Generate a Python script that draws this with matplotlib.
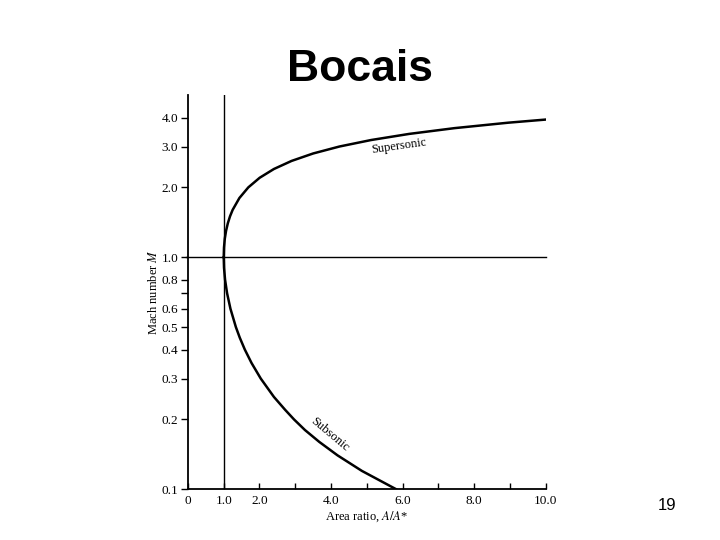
import matplotlib
matplotlib.use('Agg')
from matplotlib import pyplot as plt

# values (area ratio A/A*, Mach number M)
sup_area = [1.0, 1.008, 1.03, 1.066, 1.115, 1.176, 1.25, 1.439, 1.688, 2.005,
            2.403, 2.896, 3.5, 4.235, 5.121, 6.184, 7.45, 8.951, 10.0]
sup_mach = [1.0, 1.1, 1.2, 1.3, 1.4, 1.5, 1.6, 1.8, 2.0, 2.2,
            2.4, 2.6, 2.8, 3.0, 3.2, 3.4, 3.6, 3.8, 3.92]

sub_area = [1.0, 1.009, 1.038, 1.094, 1.188, 1.34, 1.449, 1.59, 1.778, 2.035,
            2.403, 2.716, 2.964, 3.27, 3.67, 4.18, 4.86, 5.82]
sub_mach = [1.0, 0.9, 0.8, 0.7, 0.6, 0.5, 0.45, 0.4, 0.35, 0.3,
            0.25, 0.22, 0.2, 0.18, 0.16, 0.14, 0.12, 0.1]

y_ticks = [0.1, 0.2, 0.3, 0.4, 0.5, 0.6, 0.7, 0.8, 1.0, 2.0, 3.0, 4.0]
y_labels = ['0.1', '0.2', '0.3', '0.4', '0.5', '0.6', '', '0.8', '1.0', '2.0', '3.0', '4.0']
x_ticks = [0, 1, 2, 3, 4, 5, 6, 7, 8, 9, 10]
x_labels = ['0', '1.0', '2.0', '', '4.0', '', '6.0', '', '8.0', '', '10.0']

plt.rcParams['font.family'] = ['Liberation Serif', 'DejaVu Serif']
plt.rcParams['mathtext.fontset'] = 'stix'

fig = plt.figure(figsize=(7.2, 5.4), dpi=100)
ax = fig.add_axes([0.261, 0.094, 0.497, 0.73])

ax.plot(sup_area, sup_mach, color='black', lw=1.8)
ax.plot(sub_area, sub_mach, color='black', lw=1.8)
ax.axvline(1.0, color='black', lw=1.0)
ax.plot([-0.05, 10], [1.0, 1.0], color='black', lw=1.0, clip_on=False)

ax.set_yscale('log')
ax.set_xlim(0, 10)
ax.set_ylim(0.1, 5.0)
ax.set_yticks(y_ticks)
ax.set_yticklabels(y_labels)
ax.minorticks_off()
ax.set_xticks(x_ticks)
ax.set_xticklabels(x_labels)
ax.tick_params(axis='y', direction='out', length=5, width=1, labelsize=9.5, pad=2)
ax.tick_params(axis='x', direction='in', length=4, width=1, labelsize=9.5, pad=4)

for s in ['top', 'right']:
    ax.spines[s].set_visible(False)
for s in ['left', 'bottom']:
    ax.spines[s].set_linewidth(1.3)

ax.set_ylabel('Mach number $\\mathit{M}$', fontsize=9, labelpad=1)
ax.set_xlabel('Area ratio, $\\mathit{A/A}$*', fontsize=9, labelpad=2)

ax.text(5.9, 3.0, 'Supersonic', fontsize=9, rotation=8, ha='center', va='center')
ax.text(3.95, 0.172, 'Subsonic', fontsize=9, rotation=-40, ha='center', va='center')

fig.text(0.5, 0.872, 'Bocais', fontsize=32, fontweight='bold', ha='center', va='center',
         family=['Liberation Sans', 'DejaVu Sans'])
fig.text(0.926, 0.063, '19', fontsize=12, ha='center', va='center',
         family=['Liberation Sans', 'DejaVu Sans'])

fig.savefig('out.png', dpi=100)
